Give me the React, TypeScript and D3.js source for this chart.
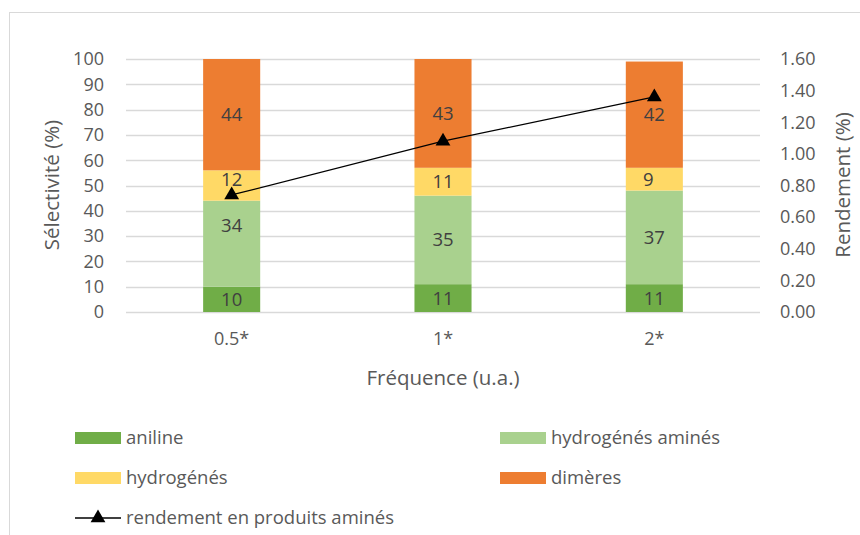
import React from "react";
import * as d3 from "d3";

const categories = ["0.5*", "1*", "2*"];
const aniline = [10, 11, 11];
const hydrogenesAmines = [34, 35, 37];
const hydrogenes = [12, 11, 9];
const dimeres = [44, 43, 42];
const rendement = [0.74, 1.08, 1.36];
const leftTicks = [0, 10, 20, 30, 40, 50, 60, 70, 80, 90, 100];
const rightTicks = [0, 0.2, 0.4, 0.6, 0.8, 1.0, 1.2, 1.4, 1.6];

const seriesNames = ["aniline", "hydrogénés aminés", "hydrogénés", "dimères"];
const seriesValues = [aniline, hydrogenesAmines, hydrogenes, dimeres];
const seriesColors = ["#70ad47", "#a9d18e", "#ffd966", "#ed7d31"];
const lineName = "rendement en produits aminés";

const FONT = "'Open Sans', sans-serif";

export default function App() {
  const W = 860, H = 535;
  const left = 126, right = 760, top = 59, bottom = 312;
  const x = d3.scaleBand().domain(categories).range([left, right]).paddingInner(0.73).paddingOuter(0.365);
  const y = d3.scaleLinear().domain([0, 100]).range([bottom, top]);
  const yR = d3.scaleLinear().domain([0, 1.6]).range([bottom, top]);

  const rows = categories.map((c, i) => {
    const o: any = { cat: c };
    seriesNames.forEach((s, k) => (o[s] = seriesValues[k][i]));
    return o;
  });
  const stack = d3.stack().keys(seriesNames)(rows as any);

  // manual label nudges as in the original
  const nudge = (k: number, i: number) => {
    if (k === 1 && i === 0) return [0, -18];
    if (k === 2 && i === 0) return [0, -6];
    if (k === 2 && i === 2) return [-6, 0];
    return [0, 0];
  };

  const line = d3
    .line<number>()
    .x((_, i) => (x(categories[i]) as number) + x.bandwidth() / 2)
    .y((d) => yR(d));

  const tri = d3.symbol().type(d3.symbolTriangle).size(95);

  const legendItems = [
    { name: seriesNames[0], color: seriesColors[0], x: 75, y: 438 },
    { name: seriesNames[1], color: seriesColors[1], x: 500, y: 438 },
    { name: seriesNames[2], color: seriesColors[2], x: 75, y: 478 },
    { name: seriesNames[3], color: seriesColors[3], x: 500, y: 478 },
  ];

  return (
    <svg width={W} height={H} style={{ position: "absolute", left: 0, top: 0, background: "#fff" }} fontFamily={FONT}>
      <rect x={9.5} y={12.5} width={900} height={600} fill="#fff" stroke="#d9d9d9" />
      {leftTicks.map((t) => (
        <line key={t} x1={left} x2={right} y1={Math.round(y(t)) + 0.5} y2={Math.round(y(t)) + 0.5} stroke="#d9d9d9" strokeWidth={1.3} />
      ))}
      {leftTicks.map((t) => (
        <text key={t} x={104} y={y(t)} dy="0.35em" textAnchor="end" fontSize={18} fill="#595959">
          {t}
        </text>
      ))}
      {rightTicks.map((t) => (
        <text key={t} x={780} y={yR(t)} dy="0.35em" textAnchor="start" fontSize={18} fill="#595959">
          {d3.format(".2f")(t)}
        </text>
      ))}
      <text transform={`translate(52,185) rotate(-90)`} textAnchor="middle" dy="0.35em" fontSize={20.5} fill="#595959">
        Sélectivité (%)
      </text>
      <text transform={`translate(843,185) rotate(-90)`} textAnchor="middle" dy="0.35em" fontSize={20.5} fill="#595959">
        Rendement (%)
      </text>
      {stack.map((s, k) => (
        <g key={k}>
          {s.map((d, i) => (
            <rect
              key={i}
              x={x(categories[i])}
              width={x.bandwidth()}
              y={y(d[1])}
              height={y(d[0]) - y(d[1])}
              fill={seriesColors[k]}
            />
          ))}
        </g>
      ))}
      {stack.map((s, k) => (
        <g key={"l" + k}>
          {s.map((d, i) => {
            const [dx, dy] = nudge(k, i);
            return (
              <text
                key={i}
                x={(x(categories[i]) as number) + x.bandwidth() / 2 + dx}
                y={(y(d[0]) + y(d[1])) / 2 + dy}
                dy="0.35em"
                textAnchor="middle"
                fontSize={18.5}
                fill="#404040"
              >
                {seriesValues[k][i]}
              </text>
            );
          })}
        </g>
      ))}
      {categories.map((c) => (
        <text key={c} x={(x(c) as number) + x.bandwidth() / 2} y={339} dy="0.35em" textAnchor="middle" fontSize={18} fill="#595959">
          {c}
        </text>
      ))}
      <text x={443} y={378} dy="0.35em" textAnchor="middle" fontSize={20.5} fill="#595959">
        Fréquence (u.a.)
      </text>
      <path d={line(rendement) as string} fill="none" stroke="#000" strokeWidth={1.3} />
      {rendement.map((v, i) => (
        <path
          key={i}
          d={tri() as string}
          transform={`translate(${(x(categories[i]) as number) + x.bandwidth() / 2},${yR(v)})`}
          fill="#000"
        />
      ))}
      {legendItems.map((l) => (
        <g key={l.name}>
          <rect x={l.x} y={l.y - 6} width={46} height={12} fill={l.color} />
          <text x={l.x + 51} y={l.y} dy="0.35em" fontSize={18.5} fill="#595959">
            {l.name}
          </text>
        </g>
      ))}
      <g>
        <line x1={75} x2={121} y1={518} y2={518} stroke="#000" strokeWidth={1.3} />
        <path d={tri() as string} transform="translate(98,518)" fill="#000" />
        <text x={126} y={518} dy="0.35em" fontSize={18.5} fill="#595959">
          {lineName}
        </text>
      </g>
    </svg>
  );
}
